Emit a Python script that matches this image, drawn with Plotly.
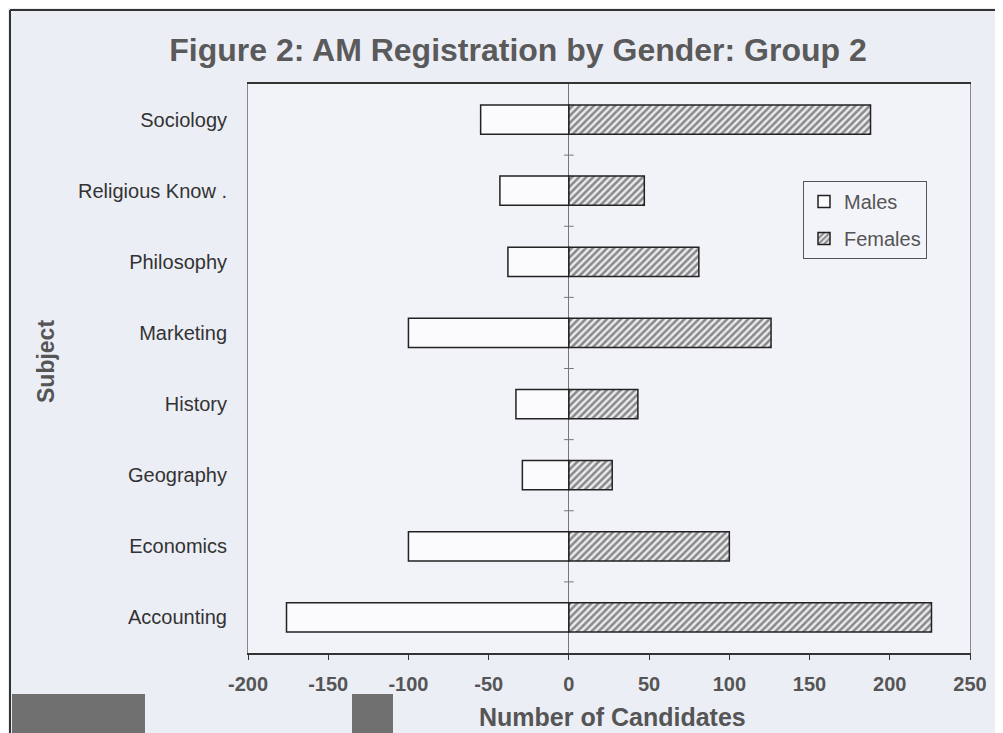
import plotly.graph_objects as go

# Daten (von oben nach unten wie im Bild)
subjects = ["Sociology", "Religious Know .", "Philosophy", "Marketing",
            "History", "Geography", "Economics", "Accounting"]
males = [-55, -43, -38, -100, -33, -29, -100, -176]
females = [188, 47, 81, 126, 43, 27, 100, 226]
x_ticks = [-200, -150, -100, -50, 0, 50, 100, 150, 200, 250]

# Seite hat 8px Body-Rand -> Figur entsprechend kleiner
OFF = 8
W, H = 1003 - OFF, 733 - OFF
L, T = 248 - OFF, 84 - OFF
R = W - (970 - OFF)
B = H - (653 - OFF)

FONT = "Liberation Sans, Arial, sans-serif"
INK = "#222222"
TEXT = "#333333"
GREY = "#555555"


def px_x(px):
    # Bildschirm-Pixel -> paper-Koordinate
    return (px - OFF - L) / (W - L - R)


def px_y(py):
    return (H - B - (py - OFF)) / (H - T - B)


fig = go.Figure()
fig.add_trace(go.Bar(
    y=subjects, x=males, orientation="h", name="Males", legendgroup="m",
    marker=dict(color="#fbfbfd", line=dict(color=INK, width=1.5)),
))
fig.add_trace(go.Bar(
    y=subjects, x=females, orientation="h", name="Females", legendgroup="f",
    marker=dict(color="#e9e9ee", line=dict(color=INK, width=1.5),
                pattern=dict(shape="/", fgcolor="#262626", bgcolor="#ececf0",
                             size=5, solidity=0.52)),
))

# kleine Teilstriche auf der Nulllinie zwischen den Kategorien
shapes = []
for i in range(len(subjects) - 1):
    shapes.append(dict(type="line", xref="x", yref="y", x0=-3, x1=3,
                       y0=i + 0.5, y1=i + 0.5, line=dict(color="#777", width=1)))

# Rahmen und Flecken des Scans
shapes += [
    dict(type="line", xref="paper", yref="paper", x0=px_x(10), x1=px_x(1003),
         y0=px_y(10), y1=px_y(10), line=dict(color="#333", width=2)),
    dict(type="line", xref="paper", yref="paper", x0=px_x(10), x1=px_x(10),
         y0=px_y(10), y1=px_y(733), line=dict(color="#333", width=2)),
    dict(type="rect", xref="paper", yref="paper", x0=px_x(12), x1=px_x(145),
         y0=px_y(694), y1=px_y(733), fillcolor="#707070", line=dict(width=0), layer="below"),
    dict(type="rect", xref="paper", yref="paper", x0=px_x(352), x1=px_x(393),
         y0=px_y(694), y1=px_y(733), fillcolor="#707070", line=dict(width=0), layer="below"),
]

annotations = [
    dict(text="<b>Number of Candidates</b>", xref="paper", yref="paper",
         x=px_x(612), y=px_y(717), xanchor="center", yanchor="middle",
         showarrow=False, font=dict(size=25, color=GREY)),
    dict(text="<b>Subject</b>", xref="paper", yref="paper", textangle=-90,
         x=px_x(46), y=px_y(362), xanchor="center", yanchor="middle",
         showarrow=False, font=dict(size=23, color=GREY)),
]

fig.update_layout(
    width=W, height=H,
    margin=dict(l=L, r=R, t=T, b=B),
    paper_bgcolor="#eceef6",
    plot_bgcolor="#f2f3f9",
    font=dict(family=FONT, size=18, color=TEXT),
    barmode="relative",
    bargap=0.59,
    title=dict(text="<b>Figure 2: AM Registration by Gender: Group 2</b>",
               x=(518 - OFF) / W, xref="container", xanchor="center",
               y=1 - (50 - OFF) / H, yanchor="middle",
               font=dict(family=FONT, size=32, color="#5a5a5a")),
    legend=dict(x=px_x(803), y=px_y(181), xanchor="left", yanchor="top",
                traceorder="grouped", tracegroupgap=8, bgcolor="#f3f4fa",
                bordercolor="#555", borderwidth=1,
                font=dict(size=20, color=GREY)),
    shapes=shapes,
    annotations=annotations,
)

fig.update_xaxes(
    range=[-200, 250], tickvals=x_ticks, ticktext=[str(v) for v in x_ticks],
    showgrid=False, zeroline=True, zerolinecolor="#777", zerolinewidth=1,
    showline=True, linecolor="#333", linewidth=1.5, mirror=True,
    ticks="outside", ticklen=5, tickcolor="#333",
    tickfont=dict(size=20, color=GREY, weight="bold"), ticklabelstandoff=7,
)
fig.update_yaxes(
    type="category", categoryorder="array", categoryarray=subjects,
    autorange="reversed",
    showgrid=False, showline=True, linecolor="#888", linewidth=1, mirror=True,
    ticks="", tickfont=dict(size=20, color=TEXT), ticklabelstandoff=16,
)

fig.write_html("out.html")
